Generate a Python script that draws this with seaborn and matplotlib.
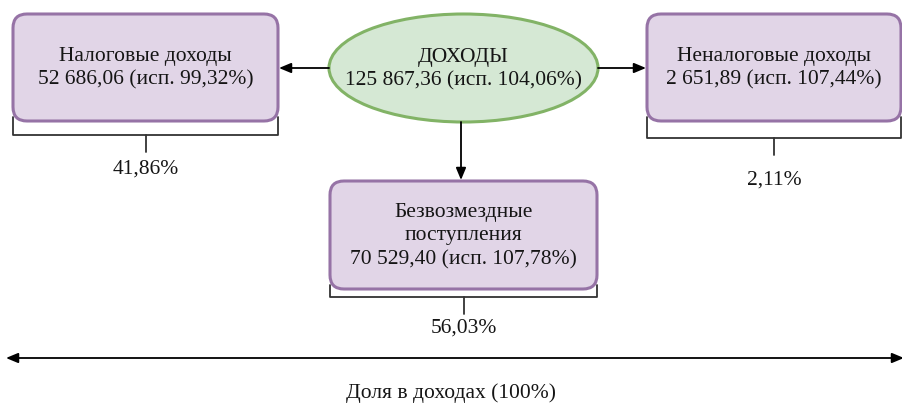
import seaborn as sns
import matplotlib.pyplot as plt
from matplotlib.patches import FancyBboxPatch, Ellipse

# данные
total_label = "ДОХОДЫ"
total_value = 125867.36
total_exec = 104.06

part_names = ["Налоговые доходы", "Безвозмездные\nпоступления", "Неналоговые доходы"]
part_values = [52686.06, 70529.40, 2651.89]
part_exec = [99.32, 107.78, 107.44]
part_share = [41.86, 56.03, 2.11]
axis_label = "Доля в доходах (100%)"


def fmt_num(v):
    s = f"{v:,.2f}"
    return s.replace(",", " ").replace(".", ",")


def fmt_pct(v):
    return f"{v:.2f}".replace(".", ",") + "%"


sns.set_theme(style="white")
plt.rcParams['font.family'] = ['Liberation Serif', 'DejaVu Serif']

fig = plt.figure(figsize=(9.02, 4.07), dpi=100)
ax = fig.add_axes([0, 0, 1, 1])
ax.set_xlim(0, 902)
ax.set_ylim(407, 0)
ax.axis("off")

box_fc, box_ec = "#e1d5e7", "#9673a6"
ell_fc, ell_ec = "#d5e8d4", "#82b366"
fs = 15.5
tc = "#151515"
ls = 1.33

# boxes: (x0, y0, x1, y1), bracket y, label y
boxes = [
    (13, 14, 278, 121, 135, 169),
    (330, 181, 597, 289, 297, 328),
    (647, 14, 901, 121, 138, 180),
]

for (x0, y0, x1, y1, by, ly), name, val, ex, sh in zip(boxes, part_names, part_values, part_exec, part_share):
    ax.add_patch(FancyBboxPatch((x0, y0), x1 - x0, y1 - y0,
                                boxstyle="round,pad=0,rounding_size=14",
                                fc=box_fc, ec=box_ec, lw=2.2, zorder=2))
    ax.text((x0 + x1) / 2, (y0 + y1) / 2 + 1,
            f"{name}\n{fmt_num(val)} (исп. {fmt_pct(ex)})",
            ha="center", va="center", fontsize=fs, color=tc,
            linespacing=ls, zorder=3)
    # bracket
    xm = (x0 + x1) / 2
    xr = min(x1, 902)
    ax.plot([x0, x0, xr, xr], [y1 - 4, by, by, y1 - 4], color="#333333", lw=1.3, zorder=1)
    ax.plot([xm, xm], [by, by + 17], color="#333333", lw=1.3, zorder=1)
    ax.text(xm, ly, fmt_pct(sh), ha="center", va="center", fontsize=fs, color=tc)

# ellipse
cx, cy, ew, eh = 463.5, 68, 269, 108
ax.add_patch(Ellipse((cx, cy), ew, eh, fc=ell_fc, ec=ell_ec, lw=2.2, zorder=2))
ax.text(cx, cy + 1, f"{total_label}\n{fmt_num(total_value)} (исп. {fmt_pct(total_exec)})",
        ha="center", va="center", fontsize=fs, color=tc, linespacing=ls, zorder=3)

arrow_kw = dict(arrowstyle="-|>,head_length=0.6,head_width=0.25", color="black", lw=1.3,
                shrinkA=0, shrinkB=0)
ax.annotate("", xy=(279, cy), xytext=(cx - ew / 2, cy), arrowprops=arrow_kw)
ax.annotate("", xy=(646, cy), xytext=(cx + ew / 2, cy), arrowprops=arrow_kw)
ax.annotate("", xy=(461, 180), xytext=(461, cy + eh / 2), arrowprops=arrow_kw)

# bottom double arrow
ax.annotate("", xy=(6, 358), xytext=(904, 358),
            arrowprops=dict(arrowstyle="<|-|>,head_length=0.6,head_width=0.25", color="black",
                            lw=1.3, shrinkA=0, shrinkB=0))
ax.text(451, 393, axis_label, ha="center", va="center", fontsize=fs, color=tc)

fig.savefig("out.png", dpi=100)
